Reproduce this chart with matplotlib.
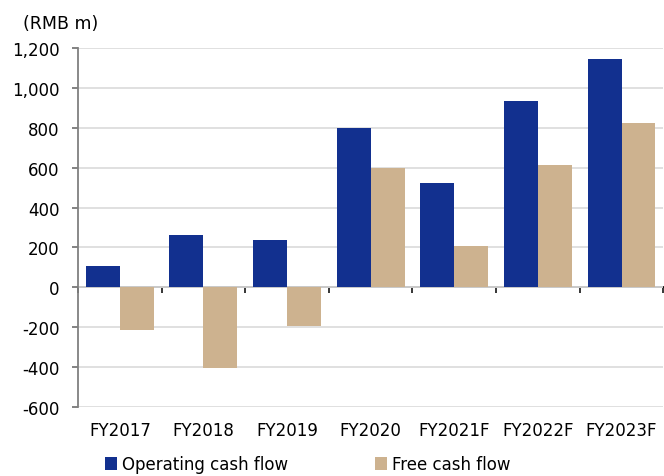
import matplotlib.pyplot as plt
import numpy as np
from matplotlib.ticker import FuncFormatter

plt.rcParams['font.family'] = ['DejaVu Sans']
plt.rcParams['font.size'] = 12

years = ['FY2017', 'FY2018', 'FY2019', 'FY2020', 'FY2021F', 'FY2022F', 'FY2023F']
# RMB m
op_cf = [105, 260, 235, 797, 525, 935, 1143]
free_cf = [-213, -405, -193, 600, 208, 615, 825]

blue = '#12308f'
tan = '#cdb28f'

fig = plt.figure(figsize=(6.64, 4.77), dpi=100)
ax = fig.add_axes([0.1175, 0.1447, 0.8815, 0.7526])

x = np.arange(len(years))
w = 0.406
ax.bar(x - w / 2, op_cf, w, color=blue, label='Operating cash flow', zorder=3)
ax.bar(x + w / 2, free_cf, w, color=tan, label='Free cash flow', zorder=3)

ax.set_xlim(-0.5, len(years) - 0.5)
ax.set_ylim(-600, 1200)
ax.set_yticks(np.arange(-600, 1201, 200))
ax.yaxis.set_major_formatter(FuncFormatter(lambda v, p: '{:,.0f}'.format(v)))
ax.grid(axis='y', color='#dddddd', linewidth=1.3, zorder=0)

for s in ['top', 'right', 'bottom']:
    ax.spines[s].set_visible(False)
ax.spines['left'].set_color('#808080')
ax.spines['left'].set_linewidth(1.3)
ax.tick_params(axis='y', direction='out', length=4.5, width=1.1, color='#606060', pad=9)

ax.set_xticks(x)
ax.set_xticklabels(years)
ax.tick_params(axis='x', length=0, pad=10)

# zero line with category ticks
sec = ax.secondary_xaxis(0, transform=ax.transData)
sec.spines['bottom'].set_color('black')
sec.spines['bottom'].set_linewidth(1.3)
sec.set_xticks(np.arange(-0.5, len(years), 1.0))
sec.tick_params(axis='x', direction='out', length=4, width=1.1, labelbottom=False)

fig.text(0.034, 0.93, '(RMB m)', fontsize=12.5, ha='left', va='bottom')

fig.legend(loc='lower left', bbox_to_anchor=(0.135, -0.026), ncol=2, frameon=False,
           handlelength=0.75, handleheight=0.75, handletextpad=0.3, columnspacing=5.2)

fig.savefig('out.png', dpi=100)
